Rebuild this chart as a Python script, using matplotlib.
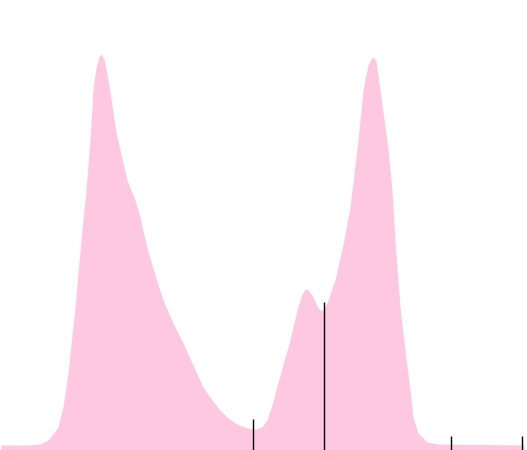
import numpy as np
import matplotlib.pyplot as plt

# density curve (x value, density height)
x_vals = [1, 30, 40, 48, 53, 58, 63, 68, 75, 81, 86, 90, 93, 96, 99, 101,
          104, 107, 110, 113, 116, 120, 127, 135, 140, 147, 155, 163, 173,
          183, 193, 203, 212, 220, 228, 237, 247, 255, 262, 267, 272, 280,
          290, 297, 302, 305, 308, 312, 318, 322, 327, 335, 344, 350, 358,
          363, 368, 371, 373, 376, 380, 387, 392, 395, 400, 405, 410, 413,
          418, 427, 438, 524]
density = [5, 5, 6, 10, 16, 23, 43, 77, 143, 210, 260, 310, 360, 382, 393, 396,
           391, 376, 358, 338, 318, 300, 270, 250, 233, 202, 175, 150, 127,
           107, 85, 63, 50, 40, 32, 26, 22, 21, 23, 30, 45, 75,
           110, 140, 156, 161, 160, 155, 142, 139, 147, 170, 210, 243, 310,
           360, 385, 391, 393, 389, 360, 310, 260, 210, 143, 100, 60, 33,
           17, 8, 6, 5]

# vertical markers (position, height)
mark_x = [253, 324, 451, 522]
mark_h = [31, 148, 14, 14]

fig = plt.figure(figsize=(5.27, 4.5), dpi=100)
ax = fig.add_axes([0, 0, 1, 1])
ax.fill_between(x_vals, 0, density, color='#ffc8e1', linewidth=0)
ax.vlines(mark_x, 0, mark_h, color='black', linewidth=1)
ax.set_xlim(0, 527)
ax.set_ylim(0, 450)
ax.axis('off')
fig.savefig('out.png', dpi=100)
